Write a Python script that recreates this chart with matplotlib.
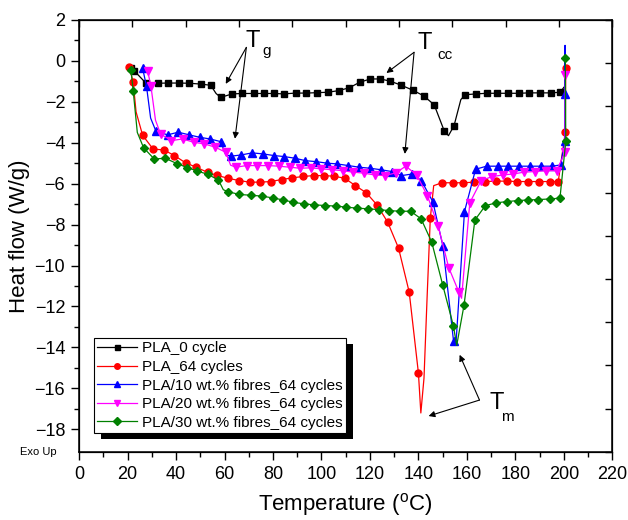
import numpy as np
import matplotlib
matplotlib.use("Agg")
import matplotlib.pyplot as plt
from matplotlib.patches import Rectangle
from matplotlib.transforms import IdentityTransform

plt.rcParams['font.family'] = ['Liberation Sans', 'DejaVu Sans']
plt.rcParams['mathtext.default'] = 'regular'

# Series data (temperature in degC, heat flow in W/g)
# *_skip lists the indices of shape points that carry no marker.
t_pla0 = [21.4, 22.8, 27.6, 32.4, 36.5, 41.3, 45.4, 50.2, 54.3, 56.5, 58.4, 63.2, 67.4, 72.1,
          76.3, 80.4, 84.5, 89.3, 93.8, 98.2, 102.6, 107.1, 111.5, 115.8, 120.2, 124.3, 128.4,
          132.8, 137.7, 142.1, 146.5, 150.6, 152.4, 154.7, 157.5, 159.3, 163.8, 168.2, 172.6,
          177.0, 181.4, 185.7, 190.1, 194.5, 198.6, 200.0]
hf_pla0 = [-0.35, -0.5, -1.1, -1.1, -1.09, -1.09, -1.1, -1.14, -1.2, -1.6, -1.79, -1.62, -1.6,
           -1.6, -1.6, -1.6, -1.62, -1.58, -1.58, -1.56, -1.54, -1.46, -1.32, -1.05, -0.89, -0.89,
           -1.0, -1.19, -1.44, -1.71, -2.15, -3.41, -3.66, -3.17, -1.9, -1.66, -1.62, -1.59, -1.59,
           -1.59, -1.59, -1.57, -1.57, -1.57, -1.54, -1.3]
skip_pla0 = [9, 32, 34, 45]

t_pla64 = [20.7, 22.3, 23.5, 26.2, 30.5, 35.0, 39.3, 44.0, 48.3, 53.0, 57.0, 61.4, 66.0, 70.3,
           74.7, 79.1, 83.6, 88.0, 92.5, 96.8, 101.0, 105.3, 109.6, 114.0, 118.5, 122.9, 127.3,
           131.8, 136.2, 140.0, 141.0, 142.3, 143.6, 144.9, 146.3, 149.7, 154.2, 158.6, 163.0,
           167.5, 172.0, 176.4, 180.8, 185.3, 189.7, 194.2, 197.7, 200.6, 200.8]
hf_pla64 = [-0.32, -1.05, -2.5, -3.64, -4.31, -4.36, -4.63, -4.99, -5.2, -5.45, -5.6, -5.74,
            -5.85, -5.93, -5.93, -5.9, -5.8, -5.72, -5.65, -5.61, -5.61, -5.64, -5.74, -6.1,
            -6.45, -7.04, -7.88, -9.15, -11.3, -15.25, -17.2, -15.5, -11.5, -7.7, -6.1, -5.96,
            -5.96, -5.96, -5.93, -5.9, -5.88, -5.88, -5.9, -5.9, -5.9, -5.9, -5.9, -3.49, -0.37]
skip_pla64 = [2, 30, 31, 32, 34]

t_f10 = [26.2, 27.8, 29.5, 31.7, 36.5, 40.9, 45.4, 49.8, 54.0, 58.4, 60.5, 62.8, 66.9, 71.4,
         75.9, 80.3, 84.6, 89.0, 93.4, 97.9, 102.2, 106.5, 111.1, 115.6, 120.0, 124.4, 128.9,
         133.0, 137.5, 141.2, 146.0, 150.1, 154.5, 155.5, 159.0, 163.6, 168.1, 172.7, 177.1,
         181.6, 186.0, 190.5, 195.0, 198.7, 200.4, 200.5, 200.6]
hf_f10 = [-0.37, -1.25, -2.8, -3.44, -3.62, -3.49, -3.62, -3.74, -3.82, -3.95, -4.6, -4.66,
          -4.6, -4.5, -4.55, -4.63, -4.68, -4.76, -4.88, -4.93, -5.0, -5.04, -5.12, -5.2, -5.25,
          -5.32, -5.41, -5.61, -5.53, -5.85, -6.9, -9.05, -13.7, -13.8, -7.37, -5.3, -5.15,
          -5.15, -5.15, -5.15, -5.15, -5.15, -5.15, -5.09, -3.9, 0.75, -1.62]
skip_f10 = [2, 10, 33, 45]

t_f20 = [28.3, 29.6, 31.5, 33.6, 38.1, 42.7, 47.2, 51.6, 56.1, 60.5, 62.5, 64.6, 69.1, 73.5,
         78.0, 82.4, 86.9, 91.2, 95.6, 99.8, 104.2, 108.7, 113.1, 117.5, 122.0, 126.1, 130.6,
         134.8, 139.3, 143.7, 148.1, 152.5, 156.7, 157.8, 161.2, 165.9, 170.4, 174.7, 179.1,
         183.7, 188.2, 192.6, 197.0, 200.5, 200.6]
hf_f20 = [-0.52, -1.22, -2.9, -3.58, -3.9, -3.82, -3.98, -4.06, -4.22, -4.47, -5.1, -5.2,
          -5.12, -5.12, -5.12, -5.15, -5.2, -5.25, -5.23, -5.28, -5.32, -5.37, -5.44, -5.49,
          -5.58, -5.61, -5.48, -5.15, -5.58, -6.59, -8.05, -10.1, -11.3, -11.6, -6.94, -5.85,
          -5.66, -5.58, -5.53, -5.44, -5.41, -5.37, -5.37, -4.47, -0.7]
skip_f20 = [2, 10, 33]

t_f30 = [21.4, 22.3, 24.0, 26.6, 31.0, 35.5, 40.3, 44.7, 48.8, 53.2, 57.5, 59.5, 61.6, 66.1,
         70.9, 75.4, 79.9, 84.3, 88.3, 92.7, 97.1, 101.6, 106.0, 110.3, 114.7, 119.1, 123.6,
         128.0, 132.5, 136.8, 141.1, 145.5, 150.0, 154.4, 155.8, 158.8, 163.3, 167.6, 172.0,
         176.4, 180.9, 185.3, 189.5, 194.2, 198.4, 200.8, 200.6]
hf_f30 = [-0.45, -1.46, -3.5, -4.25, -4.8, -4.76, -5.02, -5.22, -5.39, -5.55, -5.83, -6.3,
          -6.4, -6.53, -6.57, -6.61, -6.7, -6.8, -6.91, -6.99, -7.04, -7.07, -7.1, -7.15, -7.2,
          -7.23, -7.27, -7.32, -7.35, -7.35, -7.72, -8.86, -10.94, -12.93, -13.9, -11.95, -7.78,
          -7.08, -6.94, -6.88, -6.83, -6.8, -6.78, -6.75, -6.71, -3.94, 0.12]
skip_f30 = [2, 11, 34]

labels = ['PLA_0 cycle', 'PLA_64 cycles', 'PLA/10 wt.% fibres_64 cycles',
          'PLA/20 wt.% fibres_64 cycles', 'PLA/30 wt.% fibres_64 cycles']
colors = ['black', '#ff0000', '#0000ff', '#ff00ff', '#008000']
markers = ['s', 'o', '^', 'v', 'D']
sizes = [4.5, 5, 5.5, 5.5, 4.5]

series = [(t_pla0, hf_pla0, skip_pla0), (t_pla64, hf_pla64, skip_pla64),
          (t_f10, hf_f10, skip_f10), (t_f20, hf_f20, skip_f20), (t_f30, hf_f30, skip_f30)]

fig = plt.figure(figsize=(6.28, 5.2), dpi=100)
ax = fig.add_axes([0.126, 0.131, 0.849, 0.831])

for (t, hf, skip), lab, c, m, s in zip(series, labels, colors, markers, sizes):
    every = [i for i in range(len(t)) if i not in skip]
    ax.plot(t, hf, color=c, lw=0.9, marker=m, ms=s, markevery=every, label=lab)

ax.set_xlim(0, 220)
ax.set_ylim(-19.1, 2)
ax.set_xticks(np.arange(0, 221, 20))
ax.set_xticks(np.arange(0, 221, 10), minor=True)
ax.set_yticks(np.arange(-18, 3, 2))
ax.set_yticks(np.arange(-18, 3, 1), minor=True)
ax.tick_params(which='major', direction='out', length=6, width=1, labelsize=13, pad=4)
ax.tick_params(which='minor', direction='out', length=3.5, width=1)
for sp in ax.spines.values():
    sp.set_linewidth(1.1)

ax.set_xlabel('Temperature ($^{o}$C)', fontsize=16, labelpad=6)
ax.set_ylabel('Heat flow (W/g)', fontsize=16, labelpad=3)
ax.text(-0.043, 0, 'Exo Up', transform=ax.transAxes, ha='right', va='center', fontsize=8)

# top / right axes with their own 10 equal divisions, ticks inward
ax_top = ax.twiny()
ax_top.set_xlim(0, 10)
ax_top.set_xticks(range(11))
ax_top.tick_params(axis='x', direction='in', length=5, width=1, labeltop=False)
ax_right = ax.twinx()
ax_right.set_ylim(0, 10)
ax_right.set_yticks(range(11))
ax_right.tick_params(axis='y', direction='in', length=5, width=1, labelright=False)

# annotations
arrow = dict(arrowstyle='-|>', color='black', lw=0.8, mutation_scale=9, shrinkA=0, shrinkB=0)
ax.text(71.7, 0.67, 'T', fontsize=17, ha='center', va='baseline')
ax.text(75.5, 0.28, 'g', fontsize=11, ha='left', va='baseline')
for xy in [(60.5, -1.13), (64.3, -3.81)]:
    ax.annotate('', xy=xy, xytext=(69.0, 0.65), arrowprops=arrow)

ax.text(139.7, 0.57, 'T', fontsize=17, ha='left', va='baseline')
ax.text(148.0, 0.08, 'cc', fontsize=11, ha='left', va='baseline')
for xy in [(126.8, -0.6), (134.4, -4.55)]:
    ax.annotate('', xy=xy, xytext=(138.2, 0.41), arrowprops=arrow)

ax.text(169.3, -17.0, 'T', fontsize=17, ha='left', va='baseline')
ax.text(174.2, -17.6, 'm', fontsize=11, ha='left', va='baseline')
for xy in [(157.0, -14.36), (144.2, -17.35)]:
    ax.annotate('', xy=xy, xytext=(165.2, -16.57), arrowprops=arrow)

leg = ax.legend(loc='lower left', bbox_to_anchor=(0.028, 0.044), borderaxespad=0,
                fontsize=11, frameon=True, fancybox=False, edgecolor='black', framealpha=1,
                handlelength=2.6, handletextpad=0.35, borderpad=0.2, labelspacing=0.3,
                markerscale=0.8)
leg.get_frame().set_linewidth(0.8)
leg.set_zorder(5)

# solid black drop shadow behind the legend
fig.canvas.draw()
bb = leg.get_window_extent()
shadow = Rectangle((bb.x0 + 7, bb.y0 - 6), bb.width, bb.height, transform=IdentityTransform(),
                   facecolor='black', edgecolor='none', zorder=4.9, clip_on=False)
ax.add_artist(shadow)

fig.savefig('out.png', dpi=100)
